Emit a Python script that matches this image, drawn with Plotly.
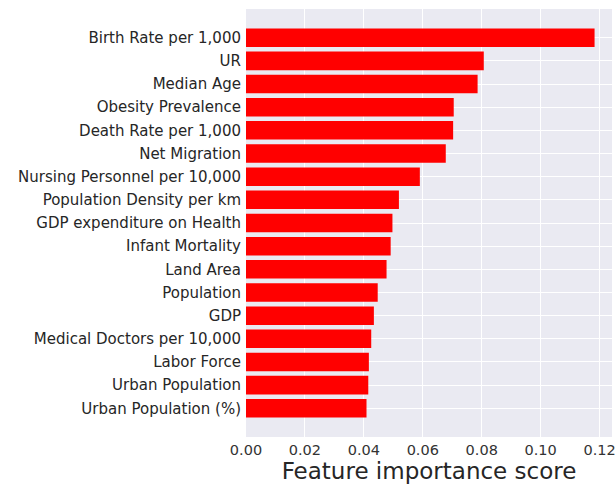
import plotly.graph_objects as go

# Feature names, listed from top bar to bottom bar
features = [
    "Birth Rate per 1,000",
    "UR",
    "Median Age",
    "Obesity Prevalence",
    "Death Rate per 1,000",
    "Net Migration",
    "Nursing Personnel per 10,000",
    "Population Density per km",
    "GDP expenditure on Health",
    "Infant Mortality",
    "Land Area",
    "Population",
    "GDP",
    "Medical Doctors per 10,000",
    "Labor Force",
    "Urban Population",
    "Urban Population (%)",
]

importance = [
    0.1183, 0.0807, 0.0786, 0.0705, 0.0703, 0.0678, 0.0590, 0.0519,
    0.0497, 0.0491, 0.0477, 0.0447, 0.0434, 0.0425, 0.0417, 0.0415, 0.0409,
]

x_ticks = [0.00, 0.02, 0.04, 0.06, 0.08, 0.10, 0.12]
x_title = "Feature importance score"

n = len(features)
pad = 0.05 * (n - 1 + 0.8)

fig = go.Figure(
    go.Bar(
        x=importance,
        y=features,
        orientation="h",
        marker=dict(color="#FF0000", line=dict(width=0)),
        width=0.8,
    )
)

fig.update_layout(
    width=616,
    height=488,
    margin=dict(l=246, r=4, t=9, b=51),
    paper_bgcolor="white",
    plot_bgcolor="#EAEAF2",
    showlegend=False,
    font=dict(family="DejaVu Sans", size=15, color="#262626"),
)

fig.update_xaxes(
    range=[0, max(importance) * 1.05],
    tickvals=x_ticks,
    ticktext=[f"{t:.2f}" for t in x_ticks],
    automargin=False,
    showgrid=True,
    gridcolor="white",
    gridwidth=1,
    zeroline=False,
    showline=False,
    ticks="",
    ticklen=0,
    ticklabeloverflow="allow",
    ticklabelstandoff=2,
    tickfont=dict(size=14.5, color="#333333"),
    title=dict(text=x_title, font=dict(size=23, color="#262626"), standoff=6),
)

fig.update_yaxes(
    type="category",
    categoryorder="array",
    categoryarray=features,
    range=[n - 1 + 0.4 + pad, -0.4 - pad],
    automargin=False,
    showgrid=True,
    gridcolor="white",
    gridwidth=1,
    zeroline=False,
    showline=False,
    ticks="",
    ticklen=0,
    ticklabelstandoff=4,
    tickfont=dict(size=15, color="#262626"),
)

fig.write_html("out.html")
